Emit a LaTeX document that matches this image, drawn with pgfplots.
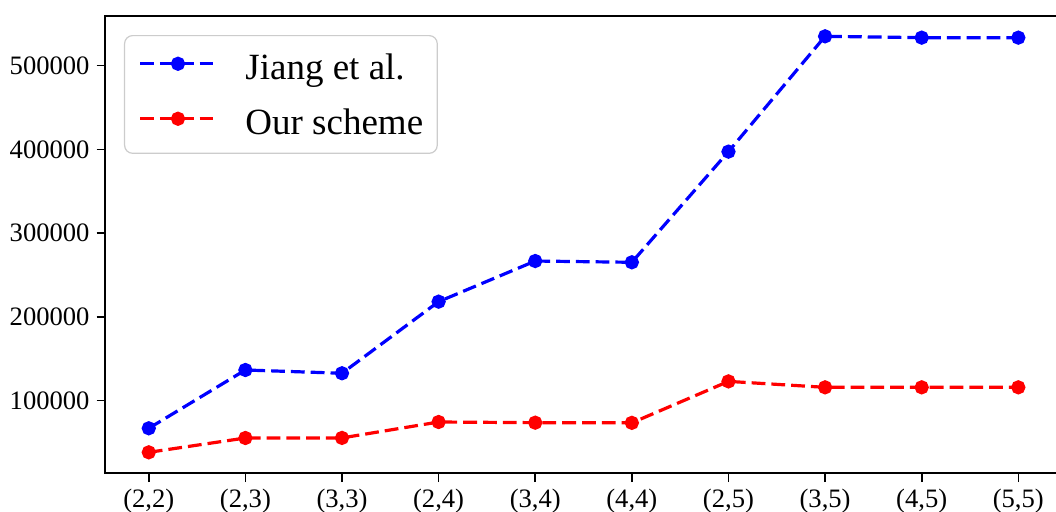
\documentclass[border=0pt]{standalone}
\usepackage{fontspec}
\setmainfont{Liberation Serif}
\usepackage{pgfplots}
\pgfplotsset{compat=1.18}
\begin{document}
\begin{tikzpicture}
\begin{axis}[
  scale only axis, width=478.25pt, height=228.8pt,
  xmin=-0.45, xmax=9.45, ymin=13250, ymax=559600,
  scaled y ticks=false,
  xtick={0,...,9},
  xticklabels={\textrm{(2,2)},\textrm{(2,3)},\textrm{(3,3)},\textrm{(2,4)},\textrm{(3,4)},\textrm{(4,4)},\textrm{(2,5)},\textrm{(3,5)},\textrm{(4,5)},\textrm{(5,5)}},
  ytick={100000,200000,300000,400000,500000},
  yticklabels={\textrm{100000},\textrm{200000},\textrm{300000},\textrm{400000},\textrm{500000}},
  xtick pos=left, ytick pos=left,
  tick align=outside, major tick length=4.35pt,
  tick style={black, line width=0.8pt},
  axis line style={black, line width=0.9pt},
  ticklabel style={font=\rmfamily\fontsize{13.3pt}{16pt}\selectfont},
  legend style={at={(rel axis cs:0,1)}, anchor=north west, xshift=9.35pt, yshift=-9.65pt,
    draw=black!20, line width=0.6pt, rounded corners=4pt, fill=white,
    font=\fontsize{18.5pt}{22pt}\selectfont,
    inner xsep=7pt, inner ysep=4pt, row sep=4.15pt, column sep=14pt,
    nodes={inner sep=0pt, text height=18.15pt, text depth=5.2pt}},
  legend cell align=left,
  legend image code/.code={
    \draw[mark repeat=2,mark phase=2,#1] plot coordinates {(0pt,1.6pt) (18.9pt,1.6pt) (37.85pt,1.6pt)};
  },
]
\coordinate (O) at (rel axis cs:0,0);
\addplot[blue, line width=1.6pt, dash pattern=on 6.9pt off 3pt, mark=*, mark size=2.75pt, mark options={solid}]
coordinates {(0,67000) (1,136600) (2,132700) (3,218200) (4,266700) (5,265200) (6,397300) (7,535000) (8,533400) (9,533400)};
\addlegendentry{Jiang et al.}
\addplot[red, line width=1.6pt, dash pattern=on 6.9pt off 3pt, mark=*, mark size=2.75pt, mark options={solid}]
coordinates {(0,38300) (1,55400) (2,55500) (3,74500) (4,73700) (5,73500) (6,123000) (7,115900) (8,115900) (9,115900)};
\addlegendentry{Our scheme}
\end{axis}
\pgfresetboundingbox
\useasboundingbox ([xshift=-52.65pt, yshift=-18.85pt]O) rectangle ++(528pt,255.5pt);
\end{tikzpicture}
\end{document}
